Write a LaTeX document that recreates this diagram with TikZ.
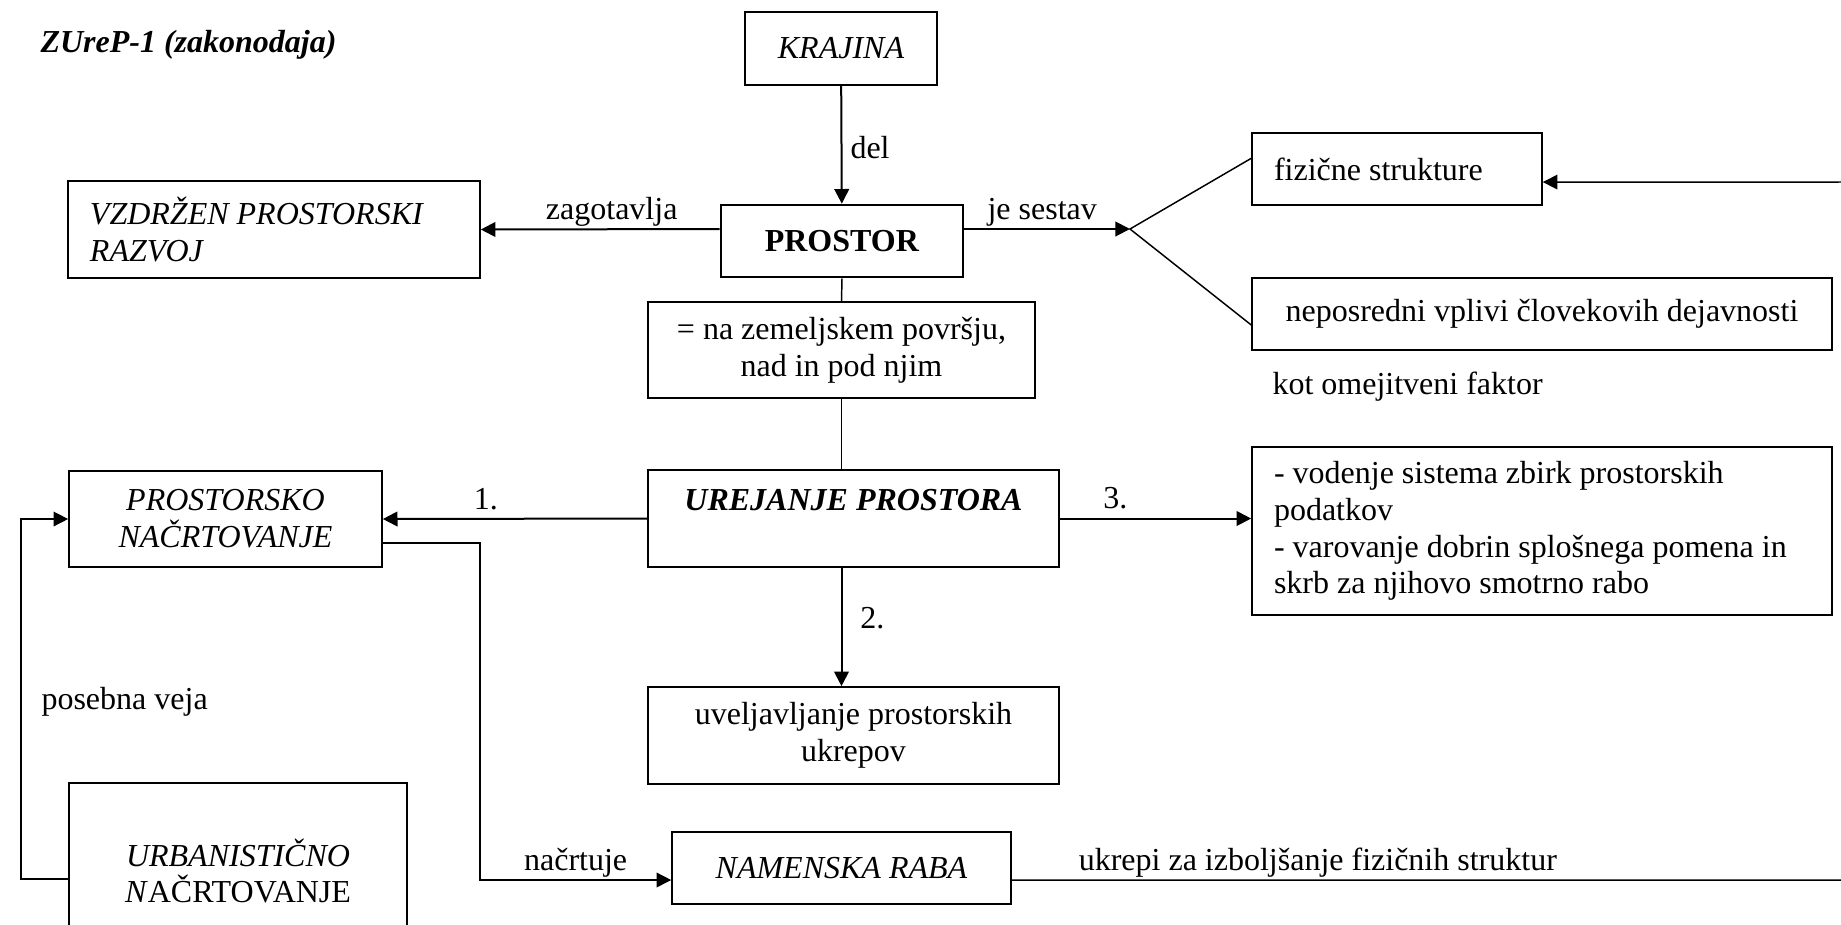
\documentclass[tikz,border=0pt]{standalone}
\usepackage{fontspec}
\setmainfont{Liberation Serif}
\usetikzlibrary{arrows.meta}

\tikzset{
  txt/.style={font=\fontsize{12}{13.8}\selectfont},
  box/.style={txt, draw, line width=0.6pt, inner sep=0pt, align=center},
  leftbox/.style={box, align=flush left, inner xsep=8.25pt},
  conn/.style={line width=0.75pt, -{Triangle[length=5.5pt,width=5.5pt]}},
  thinline/.style={line width=0.55pt},
  lbl/.style={txt, inner sep=1pt, text depth=2.2pt},
}

\begin{document}
\begin{tikzpicture}[x=0.375pt, y=-0.375pt]
\useasboundingbox (0,0) rectangle (1841,924);
% Title
\node[txt, anchor=base west, inner sep=0pt] (naslov) at (40,52) {\textbf{\textit{ZUreP-1 (zakonodaja)}}};
% Boxes
\node[box, minimum width=72pt, minimum height=27.4pt] (krajina) at (841,48.5) {\textit{KRAJINA}};
\node[box, line width=1pt, minimum width=90.75pt, minimum height=27pt] (prostor) at (842,241) {\textbf{PROSTOR}};
\node[leftbox, text width=138pt, minimum height=36.4pt] (vzdrzen) at (274,229.5) {\textit{VZDRŽEN PROSTORSKI}\\\textit{RAZVOJ}};
\node[leftbox, text width=92.25pt, minimum height=27pt] (fizicne) at (1397,169) {fizične strukture};
\node[box, minimum width=217.5pt, minimum height=27pt] (vplivi) at (1542,314) {neposredni vplivi človekovih dejavnosti};
\node[box, minimum width=145.1pt, minimum height=36pt] (povrsje) at (841.5,350) {= na zemeljskem površju,\\nad in pod njim};
\node[box, minimum width=154.1pt, minimum height=36.4pt] (urejanje) at (853.5,518.5) {\textbf{\textit{UREJANJE PROSTORA}}\\~};
\node[leftbox, text width=201pt, minimum height=63pt] (naloge) at (1542,531) {- vodenje sistema zbirk prostorskih\\podatkov\\- varovanje dobrin splošnega pomena in\\skrb za njihovo smotrno rabo};
\node[box, minimum width=154.1pt, minimum height=36.4pt] (ukrepi) at (853.5,735.5) {uveljavljanje prostorskih\\ukrepov};
\node[box, minimum width=117.4pt, minimum height=36pt] (prostnac) at (225.5,519) {\textit{PROSTORSKO}\\\textit{NAČRTOVANJE}};
\node[box, minimum width=126.75pt, minimum height=66pt] (urbnac) at (238,871) {\textit{URBANISTIČNO}\\\textit{N}AČRTOVANJE};
\node[box, minimum width=127.1pt, minimum height=27pt] (namenska) at (841.5,868) {\textit{NAMENSKA RABA}};
% Free labels
\node[txt, anchor=base west, inner sep=0pt] (omejitev) at (1272,394) {kot omejitveni faktor};
\node[txt, anchor=base west, inner sep=0pt] (veja) at (41,709) {posebna veja};
% Helper points
\coordinate (split) at (1130,229);
\coordinate (razcep) at (480,880);
\coordinate (zanka) at (21,519);
\coordinate (rimB) at (1848,880);
\coordinate (rimT) at (1848,182);
% Arrows from PROSTOR
\draw[conn] (krajina) -- node[lbl, right, pos=0.55, xshift=2pt] {del} (prostor);
\draw[conn] ([yshift=4.5pt]prostor.west) -- node[lbl, above, pos=0.452] {zagotavlja} (vzdrzen.east);
\draw[conn] ([yshift=4.5pt]prostor.east) -- node[lbl, above, pos=0.47] {je sestav} (split);
% Fan to the two parts
\draw[thinline] ([yshift=4pt]fizicne.west) -- (split) -- ([yshift=-4.1pt]vplivi.west);
% Spine down the middle
\draw[thinline] (prostor.south) -- (povrsje.north);
\draw[thinline] (povrsje.south) -- (povrsje.south |- urejanje.north);
% Three tasks
\draw[conn] (urejanje.west) -- node[lbl, above, pos=0.61] {1.} (prostnac.east);
\draw[conn] (urejanje.south -| povrsje.south) -- node[lbl, right, pos=0.45, xshift=5.7pt] {2.} (ukrepi.north -| povrsje.south);
\draw[conn] (urejanje.east) -- node[lbl, above, pos=0.29] {3.} (urejanje.east -| naloge.west);
% Special branch loop
\draw[thinline, -{Triangle[length=5.5pt,width=5.5pt]}] ([yshift=-3pt]urbnac.west) -| (zanka) -- (prostnac.west);
% Planning of land use
\draw[thinline, -{Triangle[length=5.5pt,width=5.5pt]}] ([yshift=-9pt]prostnac.east) -| (razcep) -- node[lbl, above, pos=0.5] {načrtuje} ([yshift=-4.5pt]namenska.west);
% Back to physical structures
\draw[thinline, -{Triangle[length=5.5pt,width=5.5pt]}] ([yshift=-4.5pt]namenska.east) -- node[lbl, above, pos=0.366] {ukrepi za izboljšanje fizičnih struktur} (rimB) -- (rimT) -- ([yshift=-4.9pt]fizicne.east);
\end{tikzpicture}
\end{document}
